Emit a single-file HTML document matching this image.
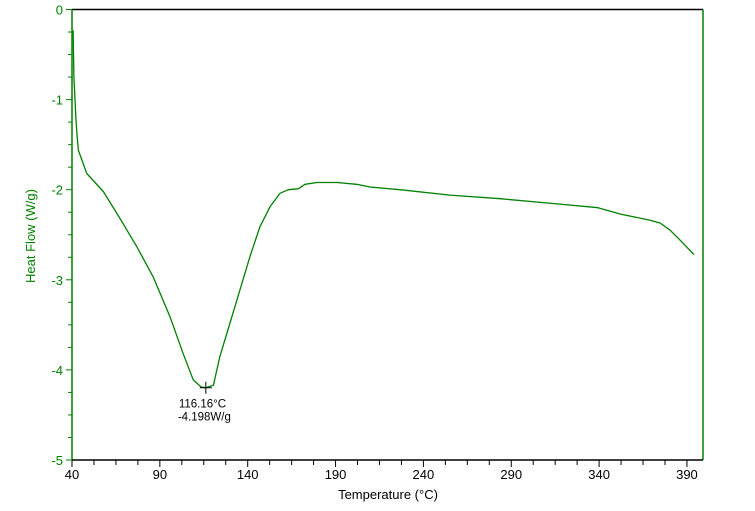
<!DOCTYPE html>
<html><head><meta charset="utf-8"><style>
html,body{margin:0;padding:0;background:#fff;}
svg{display:block;font-family:"Liberation Sans",Arial,sans-serif;}
</style></head><body>
<svg id="chart" width="755" height="511" viewBox="0 0 755 511" xmlns="http://www.w3.org/2000/svg"></svg>
<script>
const temps=[40.6,41.1,41.7,42.3,42.8,43.6,48.4,57.8,67.3,76.8,86.3,95.8,103.3,109.0,113.5,116.16,120.5,124.2,129.9,135.6,141.3,147.0,152.7,158.4,163.1,168.8,172.6,179.3,190.7,202.0,209.6,226.7,255.1,283.6,317.7,339.4,351.9,369,374.7,380.4,386.1,394];
const heatFlow=[-0.23,-0.75,-1.0,-1.23,-1.37,-1.56,-1.82,-2.02,-2.32,-2.63,-2.97,-3.41,-3.82,-4.11,-4.19,-4.198,-4.17,-3.85,-3.48,-3.11,-2.74,-2.41,-2.19,-2.04,-2.00,-1.99,-1.94,-1.92,-1.92,-1.94,-1.97,-2.0,-2.06,-2.1,-2.16,-2.2,-2.27,-2.34,-2.37,-2.45,-2.56,-2.72];
const xTicks=[40,90,140,190,240,290,340,390];
const yTicks=[0,-1,-2,-3,-4,-5];
const peakT=116.16, peakV=-4.198;

const NS="http://www.w3.org/2000/svg";
const svg=document.getElementById('chart');
const L=72,R=703,T=9.5,B=460;
const xs=t=>L+(t-40)*1.757;
const ys=v=>T+(-v)*(B-T)/5;
function mk(tag,attrs,parent){const e=document.createElementNS(NS,tag);for(const k in attrs)e.setAttribute(k,attrs[k]);(parent||svg).appendChild(e);return e;}

const frame=mk('g',{});


mk('line',{x1:L,y1:T,x2:R,y2:T,stroke:'#000','stroke-width':1.5},frame);
mk('line',{x1:R,y1:T,x2:R,y2:B,stroke:'#008000','stroke-width':1.5},frame);
mk('line',{x1:L,y1:T,x2:L,y2:B,stroke:'#008000','stroke-width':1.5},frame);
mk('line',{x1:L,y1:B,x2:R,y2:B,stroke:'#000','stroke-width':1.5},frame);

const xa=mk('g',{});


for(let t=40;t<=400;t+=12.5){const x=xs(t);if(x>R)break;const major=xTicks.includes(t);mk('line',{x1:x,y1:B,x2:x,y2:B+(major?7:5),stroke:'#000'},xa);}
xTicks.forEach(t=>{const e=mk('text',{x:xs(t),y:B+19,'text-anchor':'middle','font-size':13,fill:'#000'},xa);e.textContent=t;

});
const xt=mk('text',{x:388,y:499,'text-anchor':'middle','font-size':13,fill:'#000'});
xt.textContent='Temperature (°C)';



const ya=mk('g',{});


for(let v=0;v>=-5;v-=0.25){const y=ys(v);const major=Math.abs(v-Math.round(v))<1e-9;mk('line',{x1:L,y1:y,x2:L-(major?6:4),y2:y,stroke:'#008000'},ya);}
yTicks.forEach(v=>{const e=mk('text',{x:L-9,y:ys(v)+5,'text-anchor':'end','font-size':13,fill:'#008000'},ya);e.textContent=v;

});
const yt=mk('text',{x:0,y:0,'text-anchor':'middle','font-size':13,fill:'#008000',transform:'translate(35,236) rotate(-90)'});
yt.textContent='Heat Flow (W/g)';



const pts=temps.map((t,i)=>xs(t).toFixed(1)+','+ys(heatFlow[i]).toFixed(1)).join(' ');
const line=mk('polyline',{points:pts,fill:'none',stroke:'#008000','stroke-width':1.3,'stroke-linejoin':'round'});



const px=xs(peakT),py=ys(peakV);
const mark=mk('g',{});


mk('line',{x1:px-6,y1:py,x2:px+6,y2:py,stroke:'#000'},mark);
mk('line',{x1:px,y1:py-6,x2:px,y2:py+6,stroke:'#000'},mark);
const l1=mk('text',{x:px-27,y:py+20,'font-size':11.5,fill:'#000'});
l1.textContent=peakT.toFixed(2)+'°C';


const l2=mk('text',{x:px-28,y:py+33,'font-size':11.5,fill:'#000'});
l2.textContent=peakV.toFixed(3)+'W/g';


</script>
</body></html>
